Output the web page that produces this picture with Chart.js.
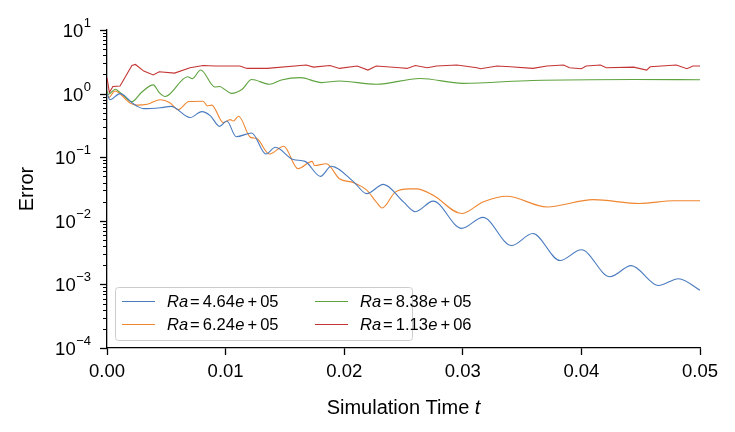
<!DOCTYPE html>
<html>
<head>
<meta charset="utf-8">
<script src="https://cdn.jsdelivr.net/npm/chart.js@4.4.1/dist/chart.umd.min.js"></script>
<style>
  html, body { margin: 0; padding: 0; background: #fff; }
  #wrap { width: 735px; height: 432px; }
</style>
</head>
<body>
<div id="wrap"><canvas id="chart" width="735" height="432"></canvas></div>
<script>
// ---- data ----
const xTicks = [0, 0.01, 0.02, 0.03, 0.04, 0.05];
const yTickExps = [-4, -3, -2, -1, 0, 1];

const raMantissa = ['4.64', '6.24', '8.38', '1.13'];
const raExponent = ['05', '05', '05', '06'];
const seriesColors = ['#4a7bbf', '#ef8630', '#5ea33e', '#c43434'];

// Ra = 4.64e+05
const t464 = [0, 0.00025, 0.0011, 0.0015, 0.0021, 0.0025, 0.0031, 0.0045, 0.0054, 0.0070,
  0.0080, 0.0087, 0.0095, 0.0101, 0.0109, 0.0122, 0.0134, 0.0142, 0.0157, 0.0167,
  0.0180, 0.0189, 0.0208, 0.0219, 0.0233, 0.0250, 0.0260, 0.0275, 0.0299, 0.0317,
  0.0341, 0.0359, 0.0382, 0.0400, 0.0424, 0.0442, 0.0465, 0.0482, 0.0500];
const e464 = [1.0, 0.8, 1.0, 0.92, 0.72, 0.64, 0.58, 0.60, 0.63, 0.42,
  0.52, 0.45, 0.305, 0.37, 0.21, 0.24, 0.112, 0.143, 0.092, 0.086,
  0.050, 0.072, 0.041, 0.0267, 0.0374, 0.0198, 0.0139, 0.0204, 0.0076, 0.0113,
  0.00408, 0.0063, 0.00237, 0.0035, 0.00132, 0.00197, 0.00096, 0.00123, 0.00081];

// Ra = 6.24e+05
const t624 = [0, 0.00015, 0.00067, 0.0019, 0.0025, 0.0034, 0.0045, 0.0053, 0.0060, 0.0069,
  0.0081, 0.00846, 0.00883, 0.0098, 0.0104, 0.01065, 0.0111, 0.0121, 0.0126, 0.0137,
  0.0149, 0.0161, 0.0173, 0.0175, 0.0185, 0.0196, 0.0208, 0.0219, 0.0227, 0.0232,
  0.0243, 0.0255, 0.0261, 0.0275, 0.0299, 0.0317, 0.0337, 0.0371, 0.0410, 0.0449,
  0.0478, 0.0500];
const e624 = [1.0, 0.87, 1.1, 0.72, 0.66, 0.68, 0.8, 0.72, 0.56, 0.75,
  0.76, 0.64, 0.66, 0.35, 0.39, 0.37, 0.44, 0.205, 0.198, 0.112,
  0.149, 0.066, 0.086, 0.074, 0.079, 0.0458, 0.0397, 0.0304, 0.0198, 0.0159,
  0.0282, 0.0318, 0.0318, 0.0252, 0.013, 0.0198, 0.0243, 0.0165, 0.0215, 0.0187,
  0.0207, 0.0207];

// Ra = 8.38e+05
const t838 = [0, 0.0001, 0.0007, 0.0011, 0.0021, 0.0029, 0.0039, 0.0044, 0.0049, 0.0068,
  0.0072, 0.0079, 0.0091, 0.0095, 0.0099, 0.0105, 0.0114, 0.0122, 0.0137, 0.0147,
  0.0163, 0.0181, 0.0196, 0.0227, 0.0264, 0.0300, 0.0359, 0.0444, 0.0500];
const e838 = [1.1, 0.97, 1.17, 1.04, 0.75, 1.04, 1.37, 1.04, 0.9, 1.84,
  1.72, 2.35, 1.27, 1.29, 1.17, 1.01, 1.17, 1.67, 1.4, 1.64,
  1.78, 1.49, 1.58, 1.4, 1.73, 1.45, 1.61, 1.67, 1.65];

// Ra = 1.13e+06
const t113 = [0, 0.0002, 0.0005, 0.0011, 0.0015, 0.0021, 0.0024, 0.0031, 0.0039, 0.0044,
  0.0057, 0.0070, 0.0081, 0.0091, 0.0112, 0.0118, 0.0135, 0.0168, 0.0174, 0.0188,
  0.0196, 0.0211, 0.0220, 0.0227, 0.0247, 0.0253, 0.0260, 0.0270, 0.0278, 0.0295,
  0.0312, 0.0315, 0.0329, 0.0340, 0.0359, 0.0371, 0.0385, 0.0390, 0.0400, 0.0404,
  0.0416, 0.0421, 0.0444, 0.0455, 0.0458, 0.0480, 0.0489, 0.0494, 0.0500];
const e113 = [1.78, 1.04, 1.29, 1.32, 1.78, 2.77, 2.87, 2.26, 1.96, 2.2,
  2.1, 2.55, 2.77, 2.71, 2.71, 2.49, 2.49, 2.81, 2.61, 2.77,
  2.49, 2.71, 2.34, 2.71, 2.55, 2.49, 2.77, 2.55, 2.71, 2.81,
  2.55, 2.46, 2.71, 2.64, 2.49, 2.71, 2.81, 2.55, 2.46, 2.71,
  2.81, 2.55, 2.61, 2.34, 2.64, 2.81, 2.46, 2.71, 2.71];

const FONT = '"Liberation Sans", Arial, Helvetica, sans-serif';
const TICK_SIZE = 18.5;
const TITLE_SIZE = 20;
const LEGEND_SIZE = 16.5;

function toPoints(ts, vs) {
  return ts.map(function (t, i) { return { x: t, y: vs[i] }; });
}

// Ra = 4.64e+05 style label, italic Ra and e
function drawRaLabel(ctx, x, y, mant, exp) {
  const parts = [
    { s: 'Ra', it: true, gap: 2 },
    { s: '=', it: false, gap: 3 },
    { s: mant, it: false, gap: 0.5 },
    { s: 'e', it: true, gap: 3 },
    { s: '+', it: false, gap: 3 },
    { s: exp, it: false, gap: 0 }
  ];
  let cx = x;
  parts.forEach(function (p) {
    ctx.font = (p.it ? 'italic ' : '') + LEGEND_SIZE + 'px ' + FONT;
    ctx.fillText(p.s, cx, y);
    cx += ctx.measureText(p.s).width + p.gap;
  });
}

const decorPlugin = {
  id: 'decor',
  afterDraw: function (chart) {
    const ctx = chart.ctx;
    const area = chart.chartArea;
    const ys = chart.scales.y;
    ctx.save();
    ctx.fillStyle = '#000';
    ctx.strokeStyle = '#000';

    // y ticks, major and minor
    for (let e = -4; e <= 1; e++) {
      for (let m = 1; m <= 9; m++) {
        if (e === 1 && m > 1) break;
        const py = Math.round(ys.getPixelForValue(m * Math.pow(10, e))) + 0.5;
        const len = (m === 1) ? 7 : 4;
        ctx.lineWidth = (m === 1) ? 1.3 : 1;
        ctx.beginPath();
        ctx.moveTo(area.left, py);
        ctx.lineTo(area.left - len, py);
        ctx.stroke();
      }
    }

    // y tick labels 10^n
    ctx.textBaseline = 'alphabetic';
    ctx.textAlign = 'left';
    yTickExps.forEach(function (e) {
      const py = ys.getPixelForValue(Math.pow(10, e));
      const expStr = e < 0 ? '\u2212' + Math.abs(e) : String(e);
      ctx.font = '13px ' + FONT;
      const ew = ctx.measureText(expStr).width;
      ctx.font = TICK_SIZE + 'px ' + FONT;
      const bw = ctx.measureText('10').width;
      const xEnd = area.left - 16;
      ctx.fillText('10', xEnd - ew - bw - 0.5, py + 7);
      ctx.font = '13px ' + FONT;
      ctx.fillText(expStr, xEnd - ew, py - 3);
    });

    // axis titles
    ctx.font = TITLE_SIZE + 'px ' + FONT;
    ctx.textBaseline = 'middle';
    ctx.save();
    ctx.translate(27, (area.top + area.bottom) / 2);
    ctx.rotate(-Math.PI / 2);
    ctx.textAlign = 'center';
    ctx.fillText('Error', 0, 0);
    ctx.restore();

    const t1 = 'Simulation Time ';
    ctx.font = TITLE_SIZE + 'px ' + FONT;
    const w1 = ctx.measureText(t1).width;
    ctx.font = 'italic ' + TITLE_SIZE + 'px ' + FONT;
    const w2 = ctx.measureText('t').width;
    const sx = (area.left + area.right) / 2 - (w1 + w2) / 2;
    ctx.textAlign = 'left';
    ctx.font = TITLE_SIZE + 'px ' + FONT;
    ctx.fillText(t1, sx, 408);
    ctx.font = 'italic ' + TITLE_SIZE + 'px ' + FONT;
    ctx.fillText('t', sx + w1, 408);

    // legend box
    const bx = area.left + 8, bw = 297, bh = 53;
    const by = area.bottom - 8 - bh;
    ctx.beginPath();
    ctx.roundRect(bx + 0.5, by + 0.5, bw, bh, 3);
    ctx.fillStyle = 'rgba(255,255,255,0.8)';
    ctx.fill();
    ctx.strokeStyle = '#cccccc';
    ctx.lineWidth = 1;
    ctx.stroke();

    ctx.textBaseline = 'middle';
    ctx.fillStyle = '#000';
    for (let i = 0; i < 4; i++) {
      const col = Math.floor(i / 2), row = i % 2;
      const hx = bx + 7 + col * 193;
      const hy = by + 14 + row * 23;
      ctx.strokeStyle = seriesColors[i];
      ctx.lineWidth = 1;
      ctx.beginPath();
      ctx.moveTo(hx, hy + 0.5);
      ctx.lineTo(hx + 33, hy + 0.5);
      ctx.stroke();
      drawRaLabel(ctx, hx + 45, hy + 1, raMantissa[i], raExponent[i]);
    }
    ctx.restore();
  }
};

const seriesTimes = [t464, t624, t838, t113];
const seriesErrors = [e464, e624, e838, e113];

const datasets = seriesTimes.map(function (ts, i) {
  return {
    label: 'Ra = ' + raMantissa[i] + 'e+' + raExponent[i],
    data: toPoints(ts, seriesErrors[i]),
    borderColor: seriesColors[i],
    borderWidth: 1.1,
    pointRadius: 0,
    fill: false,
    cubicInterpolationMode: i === 3 ? 'default' : 'monotone',
    tension: i === 3 ? 0 : 0.4
  };
});

new Chart(document.getElementById('chart').getContext('2d'), {
  type: 'line',
  data: { datasets: datasets },
  options: {
    responsive: false,
    animation: false,
    layout: { padding: { top: 30, right: 35, left: 0, bottom: 0 } },
    plugins: { legend: { display: false }, tooltip: { enabled: false } },
    scales: {
      x: {
        type: 'linear',
        min: 0,
        max: 0.05,
        afterFit: function (s) { s.height = 84; },
        afterBuildTicks: function (s) { s.ticks = xTicks.map(function (v) { return { value: v }; }); },
        ticks: {
          color: '#000',
          font: { family: FONT, size: TICK_SIZE },
          padding: 6,
          maxRotation: 0,
          autoSkip: false,
          callback: function (v) { return Number(v).toFixed(2); }
        },
        grid: { display: true, drawOnChartArea: false, drawTicks: true, tickLength: 7, tickWidth: 1.3, tickColor: '#000' },
        border: { display: true, color: '#000', width: 1.3 }
      },
      y: {
        type: 'logarithmic',
        min: 1e-4,
        max: 10,
        afterFit: function (s) { s.width = 107; },
        ticks: { display: false },
        grid: { display: false },
        border: { display: true, color: '#000', width: 1.3 }
      }
    }
  },
  plugins: [decorPlugin]
});
</script>
</body>
</html>
